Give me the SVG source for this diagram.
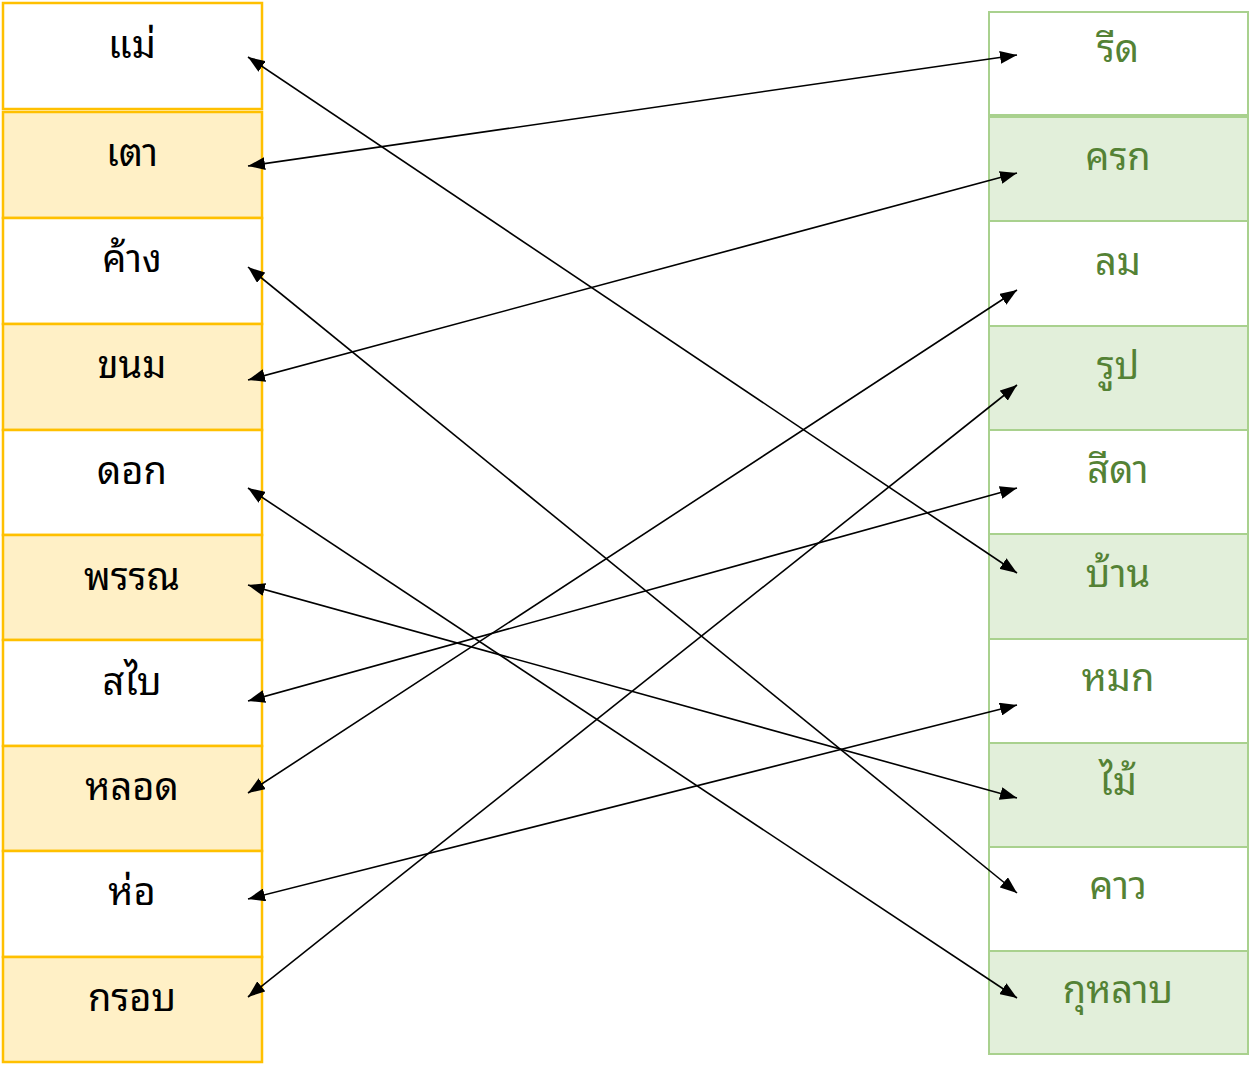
<svg xmlns="http://www.w3.org/2000/svg" width="1249" height="1067" viewBox="0 0 1249 1067">
<style>
.l rect{stroke:#FFC000;stroke-width:2.5}
.r rect{stroke:#A9D18E;stroke-width:2}
.w{fill:#FFFFFF}
.ly{fill:#FFF0C6}
.rg{fill:#E2EFDA}
text{font-family:"Noto Sans Thai Looped","Waree","Loma","Garuda","Tlwg Typo","Noto Sans Thai","Noto Sans",sans-serif;font-size:38px;text-anchor:middle}
.l text{fill:#000000}
.r text{fill:#548235}
.c line{stroke:#000;stroke-width:1.6;fill:none;marker-start:url(#a);marker-end:url(#a)}
</style>
<defs>
<marker id="a" viewBox="0 0 17 13" refX="17" refY="6.5" markerWidth="17" markerHeight="13" markerUnits="userSpaceOnUse" orient="auto-start-reverse">
<path d="M0,0 L17,6.5 L0,13 z" fill="#000"/>
</marker>
</defs>
<g id="left" class="l">
<g id="n-mae"><rect class="w" x="3" y="3" width="259" height="106"/><text x="132" y="58">แม่</text></g>
<g id="n-tao"><rect class="ly" x="3" y="112" width="259" height="106"/><text x="132" y="166">เตา</text></g>
<g id="n-khang"><rect class="w" x="3" y="218" width="259" height="106"/><text x="132" y="272">ค้าง</text></g>
<g id="n-khanom"><rect class="ly" x="3" y="324" width="259" height="106"/><text x="132" y="378">ขนม</text></g>
<g id="n-dok"><rect class="w" x="3" y="430" width="259" height="105"/><text x="132" y="484">ดอก</text></g>
<g id="n-phan"><rect class="ly" x="3" y="535" width="259" height="105"/><text x="132" y="590">พรรณ</text></g>
<g id="n-sabai"><rect class="w" x="3" y="640" width="259" height="106"/><text x="132" y="695">สไบ</text></g>
<g id="n-lot"><rect class="ly" x="3" y="746" width="259" height="105"/><text x="132" y="800">หลอด</text></g>
<g id="n-ho"><rect class="w" x="3" y="851" width="259" height="106"/><text x="132" y="905">ห่อ</text></g>
<g id="n-krop"><rect class="ly" x="3" y="957" width="259" height="105"/><text x="132" y="1011">กรอบ</text></g>
</g>
<g id="right" class="r">
<g id="n-rit"><rect class="w" x="989" y="12" width="259" height="103"/><text x="1118" y="62">รีด</text></g>
<g id="n-khrok"><rect class="rg" x="989" y="117" width="259" height="104"/><text x="1118" y="170">ครก</text></g>
<g id="n-lom"><rect class="w" x="989" y="221" width="259" height="105"/><text x="1118" y="275">ลม</text></g>
<g id="n-rup"><rect class="rg" x="989" y="326" width="259" height="104"/><text x="1118" y="379">รูป</text></g>
<g id="n-sida"><rect class="w" x="989" y="430" width="259" height="104"/><text x="1118" y="483">สีดา</text></g>
<g id="n-ban"><rect class="rg" x="989" y="534" width="259" height="105"/><text x="1118" y="587">บ้าน</text></g>
<g id="n-mok"><rect class="w" x="989" y="639" width="259" height="104"/><text x="1118" y="691">หมก</text></g>
<g id="n-mai"><rect class="rg" x="989" y="743" width="259" height="104"/><text x="1118" y="795">ไม้</text></g>
<g id="n-khao"><rect class="w" x="989" y="847" width="259" height="104"/><text x="1118" y="899">คาว</text></g>
<g id="n-kulap"><rect class="rg" x="989" y="951" width="259" height="103"/><text x="1118" y="1003">กุหลาบ</text></g>
</g>
<g id="connectors" class="c">
<line x1="248" y1="57" x2="1017" y2="573"/>
<line x1="248" y1="166" x2="1017" y2="55"/>
<line x1="248" y1="267" x2="1017" y2="893"/>
<line x1="248" y1="380" x2="1017" y2="173"/>
<line x1="248" y1="488" x2="1017" y2="998"/>
<line x1="248" y1="585" x2="1017" y2="798"/>
<line x1="248" y1="701" x2="1017" y2="488"/>
<line x1="248" y1="793" x2="1017" y2="290"/>
<line x1="248" y1="899" x2="1017" y2="705"/>
<line x1="248" y1="997" x2="1017" y2="385"/>
</g>
</svg>
